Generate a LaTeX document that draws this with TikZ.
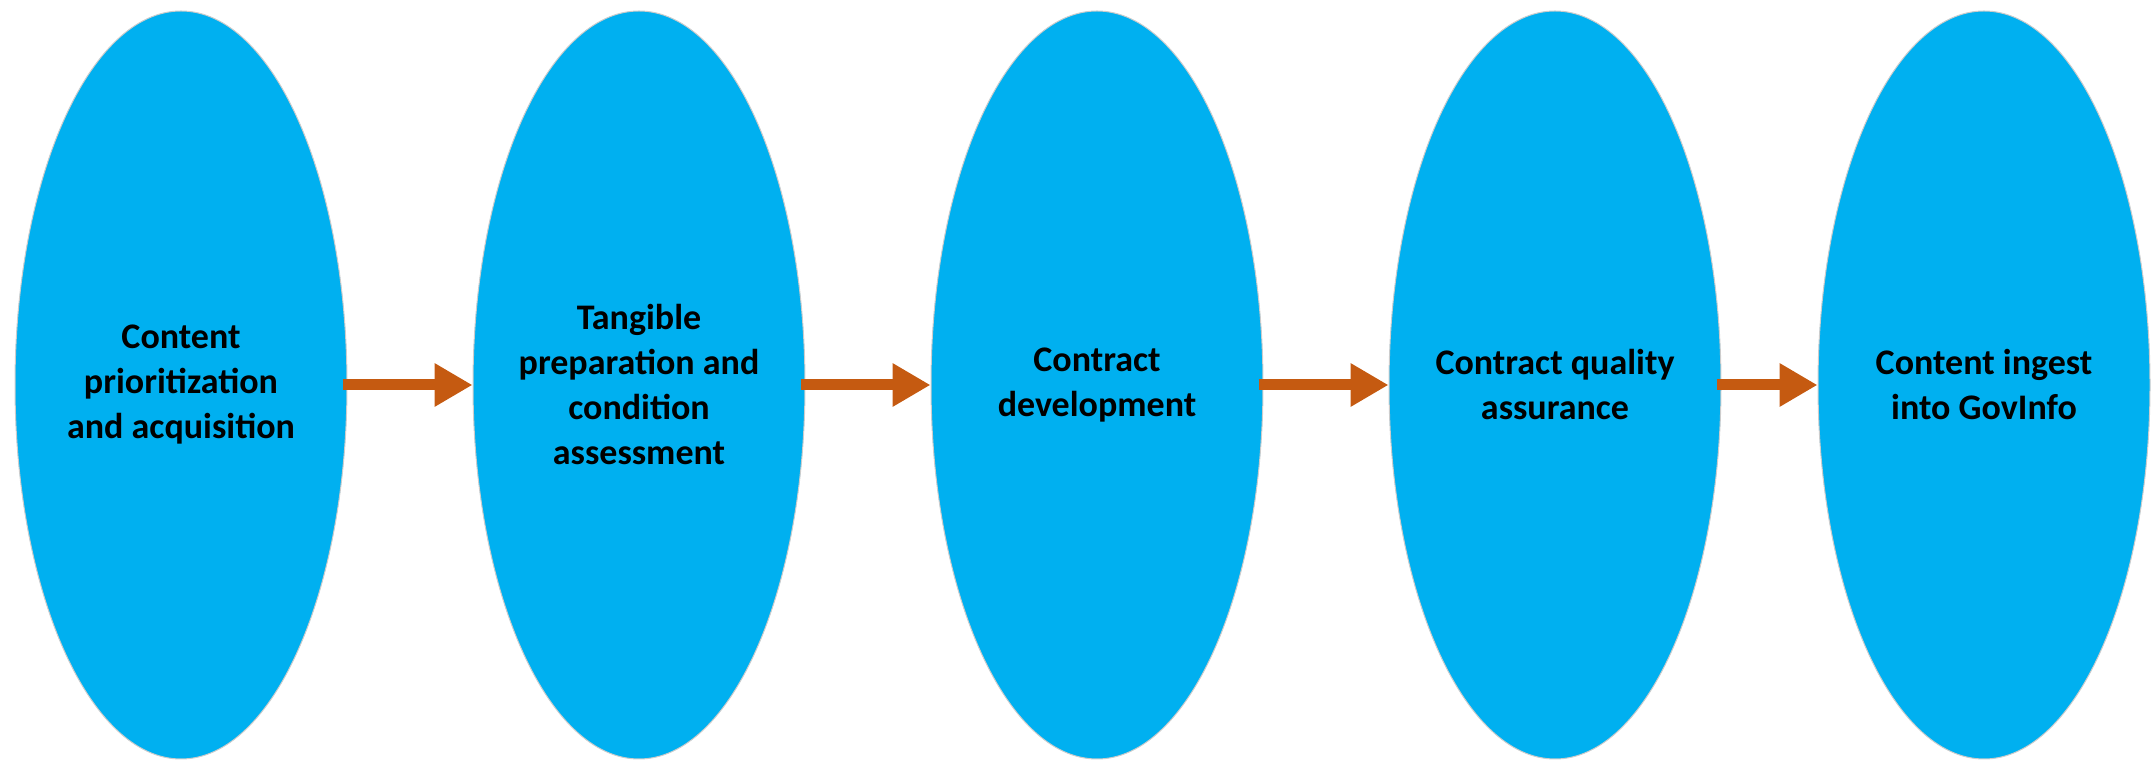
\documentclass[tikz,border=0pt]{standalone}
\usepackage{fontspec}
\setmainfont{Carlito}
\usetikzlibrary{shapes.geometric,positioning,arrows.meta}
\definecolor{stageblue}{RGB}{0,176,240}
\definecolor{arrorange}{RGB}{197,90,17}

\begin{document}
\begin{tikzpicture}[x=1pt, y=1pt,
             stage/.style = {draw=gray!40, line width=0.5pt, fill=stageblue, shape=ellipse,
                             minimum width=166pt, minimum height=374pt, inner sep=0pt},
             stagetext/.style = {align=center, inner sep=0pt,
                                 font=\fontsize{18}{22.5}\selectfont\bfseries},
             flow/.style = {-{Triangle[length=19pt, width=20.5pt]}, line width=5.5pt, draw=arrorange},
             node distance=62.5pt]
\useasboundingbox (0,0) rectangle (1076.5,-381.5);

\node (s1) [stage] at (90.5,-192.5) {};
\node (s2) [stage, right=of s1] {};
\node (s3) [stage, right=of s2] {};
\node (s4) [stage, right=of s3] {};
\node (s5) [stage, right=48pt of s4] {};

\node (t1) at (s1) [stagetext] {Content\\prioritization\\and acquisition};
\node (t2) at (s2) [stagetext] {Tangible\\preparation and\\condition\\assessment};
\node (t3) at (s3) [stagetext] {Contract\\development};
\node (t4) at (s4) [stagetext] {Contract quality\\assurance};
\node (t5) at (s5) [stagetext] {Content ingest\\into GovInfo};

\draw [flow] ([xshift=-2.5pt]s1.east) -- (s2.west);
\draw [flow] ([xshift=-2.5pt]s2.east) -- (s3.west);
\draw [flow] ([xshift=-2.5pt]s3.east) -- (s4.west);
\draw [flow] ([xshift=-2.5pt]s4.east) -- (s5.west);

\end{tikzpicture}
\end{document}
